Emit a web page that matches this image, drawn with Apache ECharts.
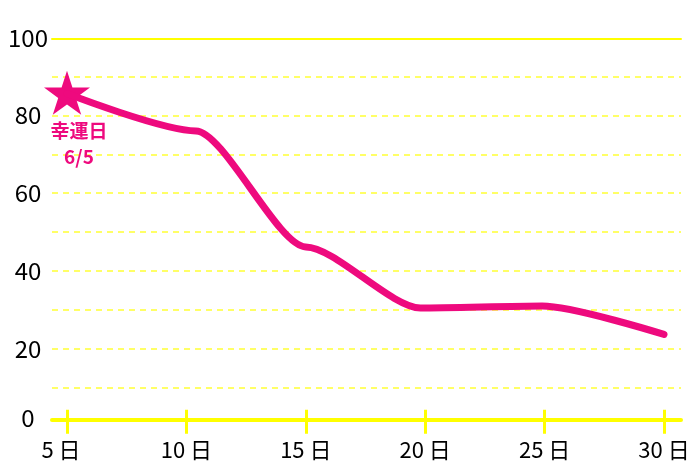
<!DOCTYPE html>
<html><head><meta charset="utf-8">
<script src="https://cdn.jsdelivr.net/npm/echarts@6/dist/echarts.min.js"></script>
<style>html,body{margin:0;padding:0;background:#fff}#c{width:700px;height:467px}</style>
</head><body><div id="c"></div>
<script>
const days = [5, 10.4, 15, 19.8, 24.9, 30];
const values = [85.6, 76.0, 46.2, 30.5, 31.0, 23.7];
const xTickDays = [5, 10, 15, 20, 25, 30];
const dayUnit = '日';
const yTickLabels = [0, 20, 40, 60, 80, 100];
const starDay = [5];
const starValue = [85.8];
const starLabel = ['幸運日', '6/5'];

const PINK = '#EE0A7E';
const YEL = '#ffff00';
const FONT = '"Noto Sans CJK JP", "Noto Sans", sans-serif';
const STAR = 'path://M50,0L61.23,34.55L97.55,34.55L68.17,55.9L79.39,90.45L50,69.1L20.61,90.45L31.83,55.9L2.45,34.55L38.77,34.55Z';

const chart = echarts.init(document.getElementById('c'));
chart.setOption({
  animation: false,
  backgroundColor: '#fff',
  grid: [
    {left: 52, right: 19, top: 37.5, bottom: 40.3},
    {left: 67, right: 36, top: 37.5, bottom: 40.3}
  ],
  xAxis: [
    {gridIndex: 0, type: 'value', min: 0, max: 1, position: 'bottom', offset: -7,
     axisLine: {show: true, lineStyle: {color: YEL, width: 4}},
     axisTick: {show: false}, axisLabel: {show: false}, splitLine: {show: false}},
    {gridIndex: 0, type: 'value', min: 0, max: 1, position: 'top', offset: -1,
     axisLine: {show: true, lineStyle: {color: YEL, width: 2}},
     axisTick: {show: false}, axisLabel: {show: false}, splitLine: {show: false}},
    {gridIndex: 1, type: 'value', min: 5, max: 30, interval: 5, position: 'bottom', offset: -7,
     axisLine: {show: false},
     axisTick: {show: true, length: 14, lineStyle: {color: YEL, width: 3}},
     axisLabel: {
       margin: 19, fontSize: 22, color: '#000', fontFamily: FONT,
       formatter: v => xTickDays.includes(v) ? (v === xTickDays[0] ? '{f|' + v + ' ' + dayUnit + '}' : v + ' ' + dayUnit) : '',
       rich: {f: {fontSize: 22, color: '#000', fontFamily: FONT, padding: [0, 12, 0, 0]}}
     },
     splitLine: {show: false}},
    {gridIndex: 1, type: 'value', min: 5, max: 30, interval: 5, position: 'bottom', offset: -7,
     axisLine: {show: false},
     axisTick: {show: true, inside: true, length: 10, lineStyle: {color: YEL, width: 3}},
     axisLabel: {show: false}, splitLine: {show: false}}
  ],
  yAxis: [
    {gridIndex: 0, type: 'value', min: 0, max: 100, interval: 10,
     axisLine: {show: false}, axisTick: {show: false},
     splitLine: {show: true, showMinLine: false, showMaxLine: false,
       lineStyle: {color: '#ffff66', width: 2, type: [6, 5]}},
     axisLabel: {
       align: 'center', margin: 24, fontSize: 24, color: '#000', fontFamily: FONT, lineHeight: 18,
       formatter: v => yTickLabels.includes(v) ? (v === 0 ? '0\n ' : String(v)) : ''
     }},
    {gridIndex: 1, type: 'value', min: 0, max: 100, show: false}
  ],
  series: [
    {type: 'line', xAxisIndex: 2, yAxisIndex: 1,
     data: days.map((d, i) => [d, values[i]]),
     smooth: 0.25, smoothMonotone: 'x', symbol: 'none',
     lineStyle: {color: PINK, width: 7, cap: 'round', join: 'round'}},
    {type: 'scatter', xAxisIndex: 2, yAxisIndex: 1,
     data: starDay.map((d, i) => [d, starValue[i]]),
     symbol: STAR, symbolSize: [46, 44], itemStyle: {color: PINK, opacity: 1},
     emphasis: {disabled: true},
     label: {show: true, position: 'bottom', distance: 3, offset: [12, 0],
       formatter: starLabel.join('\n'), color: PINK, opacity: 1, fontSize: 19, lineHeight: 26,
       fontFamily: FONT, fontWeight: 'bold'}}
  ]
});
</script></body></html>
